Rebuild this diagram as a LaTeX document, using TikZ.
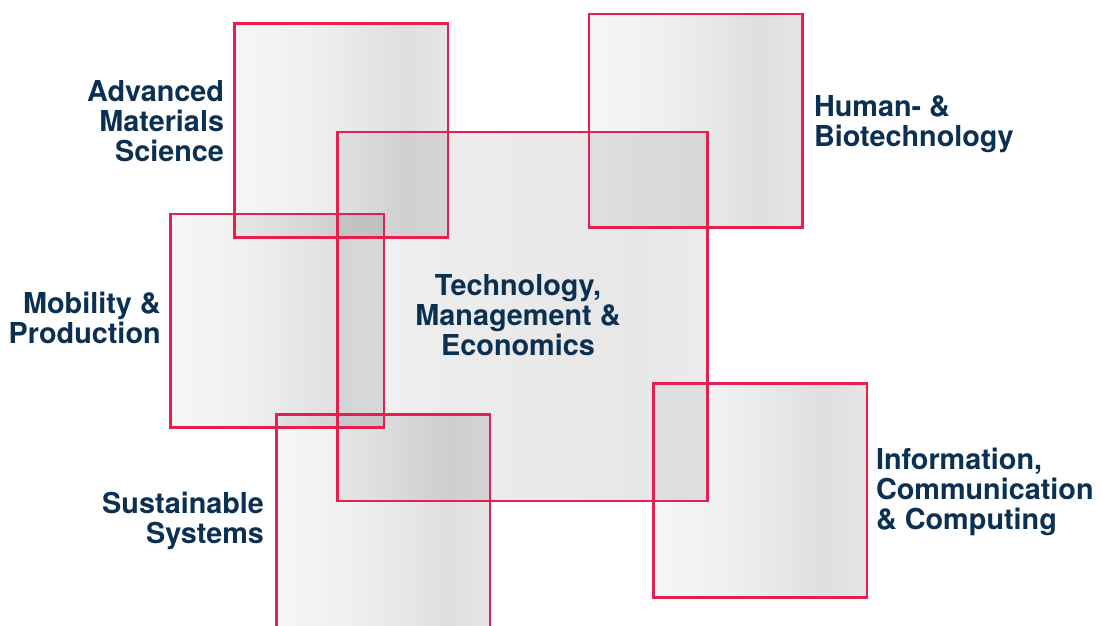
\documentclass[tikz,border=0pt]{standalone}
\usepackage{fontspec}
\setmainfont{TeX Gyre Heros}
\usetikzlibrary{positioning}
\definecolor{sqred}{RGB}{232,30,78}
\definecolor{navy}{RGB}{12,48,82}
\definecolor{ga}{RGB}{245,246,246}
\definecolor{gb}{RGB}{239,240,240}
\definecolor{gc}{RGB}{223,223,224}
\definecolor{gd}{RGB}{230,230,231}
\definecolor{ca}{RGB}{243,244,244}
\definecolor{cb}{RGB}{236,236,236}
\definecolor{cc}{RGB}{231,231,232}
\definecolor{cd}{RGB}{236,236,236}
\pgfdeclarehorizontalshading{sqshade}{100bp}{color(0bp)=(ga); color(25bp)=(ga); color(42bp)=(gb); color(65bp)=(gc); color(75bp)=(gd); color(100bp)=(gd)}
\pgfdeclarehorizontalshading{censhade}{100bp}{color(0bp)=(ca); color(25bp)=(ca); color(40bp)=(cb); color(66bp)=(cc); color(75bp)=(cd); color(100bp)=(cd)}
\tikzset{
  sqbox/.style={shade, shading=sqshade, minimum width=213.5pt, minimum height=213.5pt, inner sep=0pt, outer sep=0pt},
  cenbox/.style={shade, shading=censhade, minimum width=370pt, minimum height=369pt, inner sep=0pt, outer sep=0pt},
  frame/.style={draw=sqred, line width=2.6pt},
  lbl/.style={text=navy, font=\bfseries\fontsize{28.8}{30}\selectfont, inner sep=0pt, outer sep=0pt},
}
\begin{document}
\begin{tikzpicture}[x=1pt,y=-1pt]
\useasboundingbox (0,0) rectangle (1103,626);
\clip (0,0) rectangle (1103,626);
\begin{scope}[blend group=multiply]
\node[sqbox] (am) at (341.1,130.5) {};
\node[sqbox] (hb) at (695.8,120.8) {};
\node[cenbox] (tme) at (522.3,316.5) {};
\node[sqbox] (mp) at (277.3,320.8) {};
\node[sqbox] (ss) at (383.3,521.3) {};
\node[sqbox] (icc) at (760.3,490.5) {};
\end{scope}
\foreach \n in {am,hb,tme,mp,ss,icc}
  \draw[frame] (\n.north west) rectangle (\n.south east);
\node[lbl, align=right, anchor=base east] (tam) at (224,161.7) {Advanced\\Materials\\Science};
\node[lbl, align=left, anchor=base west] (thb) at (814,146.7) {Human- \&\\Biotechnology};
\node[lbl, align=center, anchor=base] (ttme) at (518,355.7) {Technology,\\Management \&\\Economics};
\node[lbl, align=right, anchor=base east] (tmp) at (160.7,343.7) {Mobility \&\\Production};
\node[lbl, align=right, anchor=base east] (tss) at (264,543.3) {Sustainable\\Systems};
\node[lbl, align=left, anchor=base west] (ticc) at (876,529.3) {Information,\\Communication\\\& Computing};
\end{tikzpicture}
\end{document}
